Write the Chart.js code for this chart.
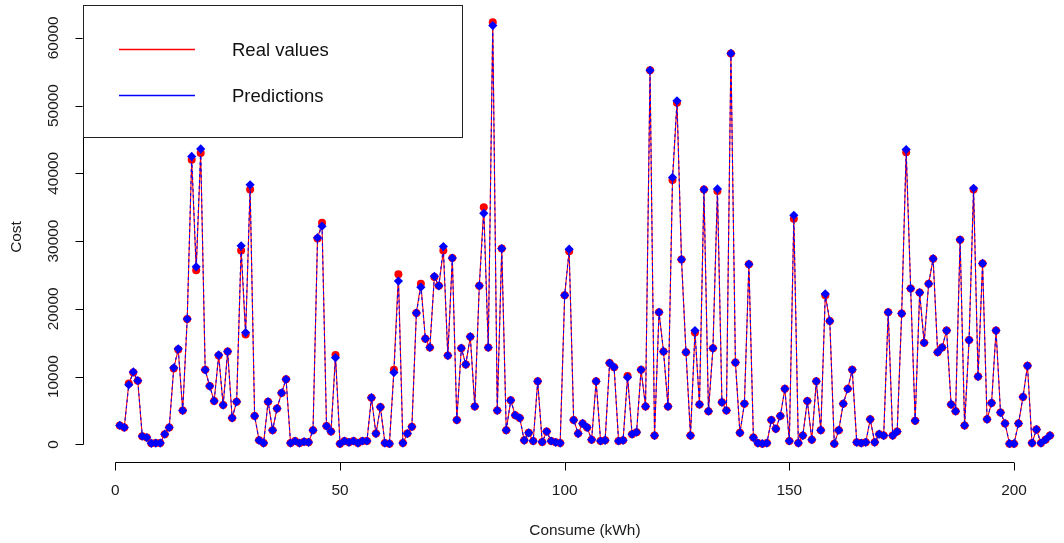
<!DOCTYPE html>
<html>
<head>
<meta charset="utf-8">
<script src="https://cdn.jsdelivr.net/npm/chart.js@4.4.1/dist/chart.umd.min.js"></script>
<style>
  html, body { margin: 0; padding: 0; background: #ffffff; overflow: hidden; }
  canvas { display: block; }
</style>
</head>
<body>
<canvas id="c" width="1064" height="543"></canvas>
<script>
// Real values (Cost) for each consumption index 1..208
const realValues = [
  2800, 2500, 9000, 10600, 9400, 1200, 1000, 150, 200, 200,
  1500, 2500, 11200, 14000, 5000, 18500, 42000, 25700, 43000, 11000,
  8600, 6400, 13100, 5800, 13700, 3900, 6300, 28600, 16200, 37600,
  4200, 600, 200, 6300, 2100, 5300, 7600, 9600, 200, 500,
  200, 400, 300, 2100, 30400, 32700, 2700, 1900, 13200, 100,
  500, 300, 500, 200, 500, 500, 6900, 1600, 5500, 200,
  100, 11000, 25100, 200, 1600, 2600, 19400, 23700, 15600, 14300,
  24700, 23400, 28600, 13100, 27500, 3600, 14200, 11800, 15900, 5600,
  23400, 35000, 14300, 62300, 5000, 28900, 2100, 6500, 4300, 3900,
  600, 1700, 500, 9300, 350, 1900, 500, 300, 200, 22000,
  28500, 3600, 1600, 3100, 2500, 700, 9300, 500, 600, 12000,
  11400, 500, 600, 10100, 1500, 1800, 11000, 5600, 55200, 1300,
  19500, 13700, 5600, 39000, 50400, 27300, 13600, 1300, 16500, 5900,
  37600, 4900, 14200, 37400, 6200, 5000, 57700, 12100, 1700, 6000,
  26600, 1000, 200, 100, 200, 3600, 2300, 4200, 8200, 500,
  33300, 200, 1300, 6400, 700, 9300, 2100, 22000, 18200, 100,
  2100, 6000, 8200, 11000, 300, 200, 300, 3700, 300, 1500,
  1300, 19500, 1300, 1900, 19300, 43100, 23000, 3500, 22400, 15000,
  23700, 27400, 13600, 14300, 16800, 5900, 4900, 30200, 2800, 15400,
  37600, 10000, 26700, 3700, 6100, 16800, 4700, 3100, 100, 100,
  3100, 7000, 11600, 200, 2200, 200, 700, 1300
];

// Predicted values for the same indices
const predictions = [
  2800, 2500, 8800, 10700, 9400, 1200, 1000, 150, 200, 200,
  1500, 2500, 11300, 14100, 5000, 18500, 42500, 26200, 43600, 11000,
  8600, 6400, 13200, 5800, 13700, 3900, 6300, 29300, 16500, 38300,
  4200, 600, 200, 6300, 2100, 5300, 7600, 9600, 200, 500,
  200, 400, 300, 2100, 30500, 32200, 2700, 1900, 12800, 100,
  500, 300, 500, 200, 500, 500, 6900, 1600, 5500, 200,
  100, 10600, 24100, 200, 1600, 2600, 19400, 23200, 15600, 14300,
  24800, 23400, 29200, 13100, 27500, 3600, 14200, 11800, 15900, 5600,
  23400, 34100, 14300, 61800, 5000, 28900, 2100, 6500, 4300, 3900,
  600, 1700, 500, 9300, 350, 1900, 500, 300, 200, 22000,
  28800, 3600, 1600, 3100, 2500, 700, 9300, 500, 600, 12000,
  11400, 500, 600, 9900, 1500, 1800, 11000, 5600, 55200, 1300,
  19500, 13700, 5600, 39400, 50700, 27300, 13600, 1300, 16800, 5900,
  37600, 4900, 14200, 37700, 6200, 5000, 57700, 12100, 1700, 6000,
  26600, 1000, 200, 100, 200, 3600, 2300, 4200, 8200, 500,
  33800, 200, 1300, 6400, 700, 9300, 2100, 22200, 18200, 100,
  2100, 6000, 8200, 11000, 300, 200, 300, 3700, 300, 1500,
  1300, 19500, 1300, 1900, 19300, 43500, 23000, 3500, 22400, 15000,
  23700, 27400, 13600, 14300, 16800, 5900, 4900, 30200, 2800, 15400,
  37800, 10000, 26700, 3700, 6100, 16800, 4700, 3100, 100, 100,
  3100, 7000, 11600, 200, 2200, 200, 700, 1300
];

// Consumption index (x categories)
const consume = realValues.map((_, i) => i + 1);

// Axis tick labels
const xTicks = [0, 50, 100, 150, 200];
const yTicks = [0, 10000, 20000, 30000, 40000, 50000, 60000];

const legendLabels = ['Real values', 'Predictions'];
const seriesColors = ['#ff0000', '#0000ff'];

const FONT = '"Liberation Sans", Arial, sans-serif';

const rAxesPlugin = {
  id: 'rAxes',
  afterDraw(chart) {
    const ctx = chart.ctx;
    const xs = chart.scales.x, ys = chart.scales.y;
    const area = chart.chartArea;
    ctx.save();
    ctx.setLineDash([]);
    ctx.globalAlpha = 1;
    ctx.strokeStyle = '#000';
    ctx.fillStyle = '#1a1a1a';
    ctx.lineWidth = 1;

    // X axis
    const yAxis = Math.round(area.bottom) + 0.5;
    ctx.beginPath();
    ctx.moveTo(xs.getPixelForValue(xTicks[0]), yAxis);
    ctx.lineTo(xs.getPixelForValue(xTicks[xTicks.length - 1]), yAxis);
    xTicks.forEach(t => {
      const px = Math.round(xs.getPixelForValue(t)) + 0.5;
      ctx.moveTo(px, yAxis);
      ctx.lineTo(px, yAxis + 8);
    });
    ctx.stroke();
    ctx.font = '15.4px ' + FONT;
    ctx.textAlign = 'center';
    ctx.textBaseline = 'middle';
    xTicks.forEach(t => {
      ctx.fillText(String(t), xs.getPixelForValue(t), 491);
    });
    ctx.fillText('Consume (kWh)', (area.left + xs.getPixelForValue(216.3)) / 2, 531);

    // Y axis
    const xAxis = Math.round(area.left) + 0.5;
    ctx.beginPath();
    ctx.moveTo(xAxis, ys.getPixelForValue(yTicks[0]));
    ctx.lineTo(xAxis, ys.getPixelForValue(yTicks[yTicks.length - 1]));
    yTicks.forEach(t => {
      const py = Math.round(ys.getPixelForValue(t)) + 0.5;
      ctx.moveTo(xAxis, py);
      ctx.lineTo(xAxis - 8, py);
    });
    ctx.stroke();
    yTicks.forEach(t => {
      ctx.save();
      ctx.translate(54, ys.getPixelForValue(t));
      ctx.rotate(-Math.PI / 2);
      ctx.fillText(String(t), 0, 0);
      ctx.restore();
    });
    ctx.save();
    ctx.translate(17, 237);
    ctx.rotate(-Math.PI / 2);
    ctx.fillText('Cost', 0, 0);
    ctx.restore();

    // Legend box (top-left of plot region)
    ctx.fillStyle = '#ffffff';
    ctx.fillRect(area.left, area.top, 462 - area.left, 137 - area.top);
    ctx.strokeStyle = '#222';
    ctx.strokeRect(Math.round(area.left) + 0.5, Math.round(area.top) + 0.5, 462 - Math.round(area.left), 137 - Math.round(area.top));
    const rows = [49.5, 95.5];
    ctx.font = '18.5px ' + FONT;
    ctx.textAlign = 'left';
    ctx.textBaseline = 'middle';
    for (let i = 0; i < legendLabels.length; i++) {
      ctx.beginPath();
      ctx.lineWidth = 1.3;
      ctx.strokeStyle = seriesColors[i];
      ctx.moveTo(119, rows[i]);
      ctx.lineTo(195, rows[i]);
      ctx.stroke();
      ctx.fillStyle = '#111';
      ctx.fillText(legendLabels[i], 232, rows[i] + 1);
    }
    ctx.restore();
  }
};

new Chart(document.getElementById('c'), {
  type: 'line',
  data: {
    datasets: [
      {
        label: legendLabels[0],
        data: consume.map((x, i) => ({ x: x, y: realValues[i] })),
        borderColor: seriesColors[0],
        backgroundColor: seriesColors[0],
        borderWidth: 1.1,
        pointStyle: 'circle',
        pointRadius: 4,
        pointBorderWidth: 0,
        tension: 0,
        order: 2
      },
      {
        label: legendLabels[1],
        data: consume.map((x, i) => ({ x: x, y: predictions[i] })),
        borderColor: seriesColors[1],
        backgroundColor: seriesColors[1],
        borderWidth: 1.1,
        borderDash: [3, 3],
        pointStyle: 'rectRot',
        pointRadius: 4.6,
        pointBorderWidth: 0,
        tension: 0,
        order: 1
      }
    ]
  },
  options: {
    responsive: false,
    animation: false,
    layout: { padding: { left: 82.6, top: 4.4, right: 0, bottom: 81 } },
    plugins: { legend: { display: false }, tooltip: { enabled: false } },
    scales: {
      x: { type: 'linear', min: -7.28, max: 210.1, display: false },
      y: { type: 'linear', min: -2600, max: 64900, display: false }
    }
  },
  plugins: [rAxesPlugin]
});
</script>
</body>
</html>
